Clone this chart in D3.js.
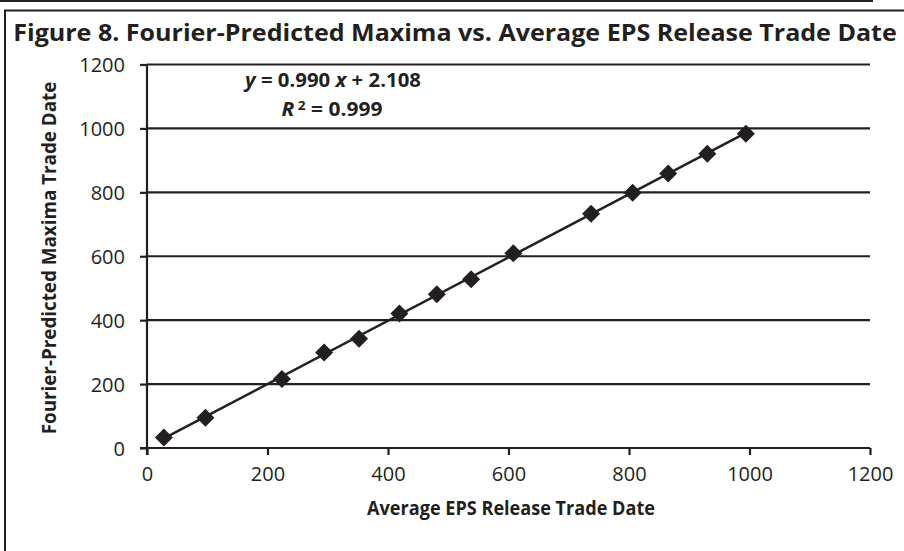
<!DOCTYPE html>
<html>
<head>
<meta charset="utf-8">
<script src="https://cdn.jsdelivr.net/npm/d3@7"></script>
<style>
  body { margin: 0; background: #fff; }
  svg { display: block; }
  text { fill: #231f20; font-family: "Open Sans", "Liberation Sans", sans-serif; }
</style>
</head>
<body>
<div id="vis"></div>
<script>
// chart data
const TITLE = "Figure 8. Fourier-Predicted Maxima vs. Average EPS Release Trade Date";
const X_TITLE = "Average EPS Release Trade Date";
const Y_TITLE = "Fourier-Predicted Maxima Trade Date";
const X_VALUES = [28, 97, 224, 294, 352, 419, 481, 538, 608, 737, 806, 865, 930, 994];
const Y_VALUES = [33, 95, 216, 299, 342, 421, 481, 528, 609, 733, 799, 859, 921, 983];
const X_TICKS = [0, 200, 400, 600, 800, 1000, 1200];
const Y_TICKS = [0, 200, 400, 600, 800, 1000, 1200];
const SLOPE = 0.990;
const INTERCEPT = 2.108;
const R2 = "0.999";

const FRAME_WIDTH = 904;
const FRAME_HEIGHT = 551;
const INK = "#231f20";

const svg = d3.select("#vis")
  .append("svg")
    .attr("width", FRAME_WIDTH)
    .attr("height", FRAME_HEIGHT);

// outer frame bits
svg.append("line")
  .attr("x1", 0).attr("x2", 873).attr("y1", 1).attr("y2", 1)
  .attr("stroke", INK).attr("stroke-width", 2);
svg.append("path")
  .attr("d", "M5,551 L5,10.5 L904,10.5")
  .attr("fill", "none").attr("stroke", INK).attr("stroke-width", 2);

// scales
const X_SCALE = d3.scaleLinear().domain([0, 1200]).range([147, 870]);
const Y_SCALE = d3.scaleLinear().domain([0, 1200]).range([448, 64.5]);

// squeeze a text sideways so it matches the narrow font of the original
function squeeze(sel, prefix, width) {
  const w = sel.node().getComputedTextLength();
  sel.attr("transform", `${prefix} scale(${(width / w).toFixed(4)},1)`);
}

// horizontal gridlines
svg.append("g")
  .selectAll("line")
  .data(Y_TICKS.filter(d => d > 0))
  .enter()
  .append("line")
    .attr("x1", X_SCALE(0))
    .attr("x2", X_SCALE(1200))
    .attr("y1", d => Y_SCALE(d))
    .attr("y2", d => Y_SCALE(d))
    .attr("stroke", INK)
    .attr("stroke-width", 2.2);

// y axis
const yAxis = svg.append("g")
  .attr("transform", `translate(${X_SCALE(0)},0)`)
  .call(d3.axisLeft(Y_SCALE).tickValues(Y_TICKS).tickFormat(d3.format("d"))
        .tickSize(7).tickPadding(15).tickSizeOuter(0));
yAxis.select(".domain").attr("stroke", INK).attr("stroke-width", 2.2)
  .attr("d", `M0,${Y_SCALE(1200)}V${Y_SCALE(0) + 7}`);
yAxis.selectAll(".tick line").attr("stroke", INK).attr("stroke-width", 2.2);
yAxis.selectAll(".tick text")
  .attr("font-size", 20)
  .attr("font-family", "'Open Sans', sans-serif")
  .attr("fill", INK)
  .attr("dy", "0.36em");

// x axis
const xAxis = svg.append("g")
  .attr("transform", `translate(0,${Y_SCALE(0)})`)
  .call(d3.axisBottom(X_SCALE).tickValues(X_TICKS).tickFormat(d3.format("d"))
        .tickSize(7).tickPadding(12).tickSizeOuter(0));
xAxis.select(".domain").attr("stroke", INK).attr("stroke-width", 2.2)
  .attr("d", `M${X_SCALE(0) - 7},0H${X_SCALE(1200)}`);
xAxis.selectAll(".tick line").attr("stroke", INK).attr("stroke-width", 2.2);
xAxis.selectAll(".tick text")
  .attr("font-size", 20)
  .attr("font-family", "'Open Sans', sans-serif")
  .attr("fill", INK)
  .attr("y", 26)
  .attr("dy", "0.36em");

// trendline
const xMin = d3.min(X_VALUES), xMax = d3.max(X_VALUES);
svg.append("line")
  .attr("x1", X_SCALE(xMin))
  .attr("y1", Y_SCALE(SLOPE * xMin + INTERCEPT))
  .attr("x2", X_SCALE(xMax))
  .attr("y2", Y_SCALE(SLOPE * xMax + INTERCEPT))
  .attr("stroke", INK)
  .attr("stroke-width", 2.5);

// diamonds
const points = X_VALUES.map((x, i) => ({x: x, y: Y_VALUES[i]}));
svg.append("g")
  .selectAll("path")
  .data(points)
  .enter()
  .append("path")
    .attr("transform", d => `translate(${X_SCALE(d.x)},${Y_SCALE(d.y)})`)
    .attr("d", "M0,-9 L9,0 L0,9 L-9,0 Z")
    .attr("fill", INK);

// title
const title = svg.append("text")
  .attr("text-anchor", "middle")
  .attr("font-size", 24)
  .attr("font-weight", "bold")
  .text(TITLE);
squeeze(title, "translate(455,41)", 884);

// axis titles
const xt = svg.append("text")
  .attr("text-anchor", "middle")
  .attr("font-size", 19)
  .attr("font-weight", "bold")
  .text(X_TITLE);
squeeze(xt, "translate(511,515)", 288);

const yt = svg.append("text")
  .attr("text-anchor", "middle")
  .attr("font-size", 19)
  .attr("font-weight", "bold")
  .text(Y_TITLE);
squeeze(yt, "translate(56,258) rotate(-90)", 353);

// regression equation
const eq1 = svg.append("text")
  .attr("text-anchor", "middle")
  .attr("font-size", 19)
  .attr("font-weight", "bold");
eq1.append("tspan").attr("font-style", "italic").text("y");
eq1.append("tspan").text(` = ${SLOPE.toFixed(3)} `);
eq1.append("tspan").attr("font-style", "italic").text("x");
eq1.append("tspan").text(` + ${INTERCEPT.toFixed(3)}`);
squeeze(eq1, "translate(333,87)", 176);

const eq2 = svg.append("text")
  .attr("text-anchor", "middle")
  .attr("font-size", 19)
  .attr("font-weight", "bold");
eq2.append("tspan").attr("font-style", "italic").text("R");
eq2.append("tspan").attr("font-size", "0.65em").attr("dy", "-0.5em").text(" 2");
eq2.append("tspan").attr("dy", "0.33em").text(` = ${R2}`);
squeeze(eq2, "translate(332,116)", 101);
</script>
</body>
</html>
